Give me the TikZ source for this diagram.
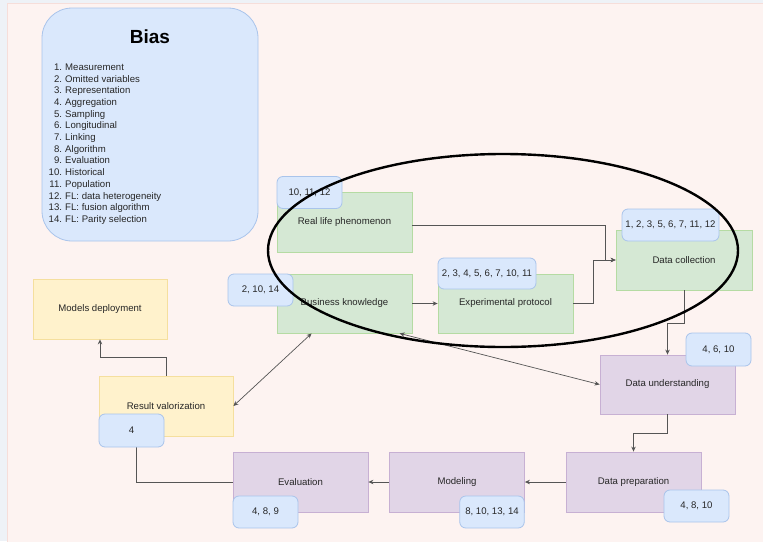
\documentclass[tikz,border=0pt]{standalone}
\usepackage{fontspec}
\setmainfont{Liberation Sans}
\usetikzlibrary{arrows.meta,calc}
\definecolor{framebg}{HTML}{EEF2F7}
\definecolor{bgpink}{HTML}{FDF3F1}
\definecolor{pinkline}{HTML}{F6DEDA}
\definecolor{gfill}{HTML}{D5E8D4}
\definecolor{gline}{HTML}{B5DBA3}
\definecolor{bfill}{HTML}{DAE8FC}
\definecolor{bline}{HTML}{A9C4EB}
\definecolor{yfill}{HTML}{FFF2CC}
\definecolor{yline}{HTML}{F5DF9E}
\definecolor{pfill}{HTML}{E1D5E7}
\definecolor{pline}{HTML}{C7B0D3}
\definecolor{conncol}{HTML}{555555}
\begin{document}
\begin{tikzpicture}[x=1pt,y=-1pt,
  every node/.style={font=\fontsize{9.6}{11.5}\selectfont, text=black!85},
  basebox/.style={rectangle, line width=0.8pt, inner sep=2pt, minimum width=135pt, minimum height=60pt},
  greenbox/.style={basebox, fill=gfill, draw=gline},
  yellowbox/.style={basebox, fill=yfill, draw=yline},
  purplebox/.style={basebox, fill=pfill, draw=pline},
  badge/.style={rectangle, rounded corners=6pt, fill=bfill, draw=bline, line width=0.8pt, inner sep=1pt, minimum width=65pt, minimum height=32pt},
  conn/.style={draw=conncol, line width=0.9pt},
  arr/.style={conn, -{Stealth[length=5pt,width=4.5pt]}},
  darr/.style={conn, line width=0.7pt, {Stealth[length=5pt,width=4.5pt]}-{Stealth[length=5pt,width=4.5pt]}}
]
\useasboundingbox (0,0) rectangle (763,541);
\fill[framebg] (0,0) rectangle (763,541);
\path[fill=bgpink, draw=pinkline, line width=0.6pt] (7.3,3.5) rectangle (764,542);

% Bias legend
\node[rectangle, rounded corners=30pt, fill=bfill, draw=bline, line width=0.8pt, minimum width=216pt, minimum height=233pt] (bias) at (150,124.5) {};
\node[font=\fontsize{19}{22}\selectfont\bfseries, text=black] (biastitle) at (150,36.7) {Bias};
\node[anchor=north west, inner sep=0pt, font=\fontsize{9.6}{11.7}\selectfont] (biaslist) at (48.5,62) {%
\begin{tabular}{@{}r@{\hspace{3.2pt}}l@{}}
1. & Measurement\\
2. & Omitted variables\\
3. & Representation\\
4. & Aggregation\\
5. & Sampling\\
6. & Longitudinal\\
7. & Linking\\
8. & Algorithm\\
9. & Evaluation\\
10. & Historical\\
11. & Population\\
12. & FL: data heterogeneity\\
13. & FL: fusion algorithm\\
14. & FL: Parity selection
\end{tabular}};

% Process boxes
\node[greenbox] (rlp) at (344.5,222) {Real life phenomenon};
\node[greenbox, minimum height=59pt] (bk) at (344.5,303.5) {Business knowledge};
\node[greenbox, minimum height=59pt] (ep) at (505.5,303.5) {Experimental protocol};
\node[greenbox, minimum width=136pt] (dc) at (684,260) {Data collection};
\node[purplebox, minimum height=59pt] (du) at (667.5,384.5) {Data understanding};
\node[purplebox] (dp) at (633.5,482) {Data preparation};
\node[purplebox] (mod) at (457,482) {Modeling};
\node[purplebox] (ev) at (300.5,482) {Evaluation};
\node[yellowbox, minimum width=134pt] (rv) at (166,406) {Result valorization};
\node[yellowbox, minimum width=134pt] (md) at (100,309) {Models deployment};

% Connectors
\draw[arr] ([yshift=-3pt]rlp.east) -| ($(dc.west)+(-10,0)$) -- (dc.west);
\draw[arr] (ep.east) -| ($(dc.west)+(-22,0)$) -- (dc.west);
\draw[arr] (bk.east) -- (ep.west);
\draw[arr] (dc.south) -- ++(0,33) -| (du.north);
\draw[arr] (du.south) -- ++(0,19) -| (dp.north);
\draw[arr] (dp.west) -- (mod.east);
\draw[arr] (mod.west) -- (ev.east);
\draw[arr] (rv.north) -- ++(0,-18.5) -| (md.south);
\draw[darr] (rv.east) -- ($(bk.south west)+(35,0)$);
\draw[darr] ($(bk.south west)+(123,0)$) -- (du.west);

% Bias badges
\node[badge] (b1) at (309.5,192.5) {10, 11, 12};
\node[badge] (b2) at (260.5,290) {2, 10, 14};
\node[badge, minimum width=98pt, minimum height=31pt] (b3) at (487,273.5) {2, 3, 4, 5, 6, 7, 10, 11};
\node[badge, minimum width=97pt] (b4) at (670.5,225) {1, 2, 3, 5, 6, 7, 11, 12};
\node[badge, minimum height=33pt] (b5) at (718.5,349.5) {4, 6, 10};
\node[badge] (b6) at (696.5,506) {4, 8, 10};
\node[badge, minimum width=64.5pt] (b7) at (492,512) {8, 10, 13, 14};
\node[badge] (b8) at (265.5,512) {4, 8, 9};
\coordinate (evend) at (136.7,446);
\draw[conn] (ev.west) -| (evend);
\node[badge, minimum height=33pt] (b9) at (131.5,430.5) {4};

% Highlight ellipse
\draw[black, line width=2.4pt] (503,250.5) ellipse [x radius=235, y radius=96.5];
\end{tikzpicture}
\end{document}
